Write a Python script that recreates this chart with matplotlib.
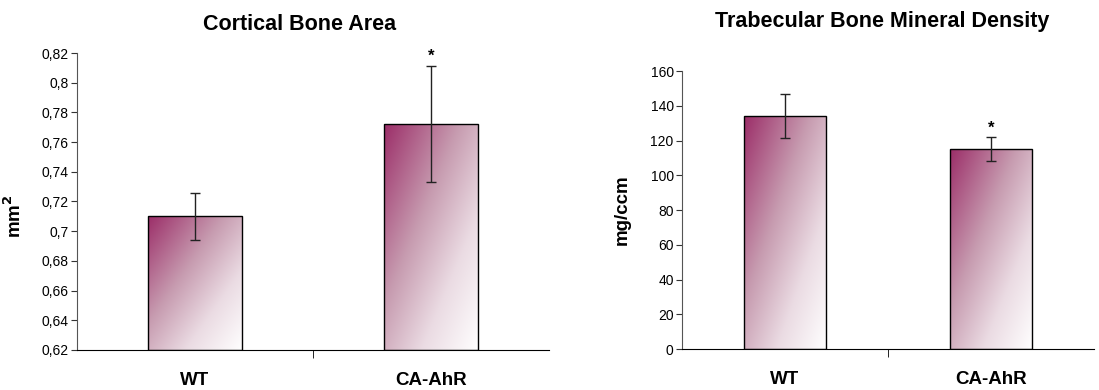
import numpy as np
import matplotlib.pyplot as plt
from matplotlib.ticker import FuncFormatter

plt.rcParams["font.family"] = ["Liberation Sans", "DejaVu Sans"]

groups = ["WT", "CA-AhR"]

cort_title = "Cortical Bone Area"
cort_vals = [0.710, 0.772]
cort_err = [0.016, 0.039]
cort_sig = [False, True]
cort_ticks = [0.62, 0.64, 0.66, 0.68, 0.70, 0.72, 0.74, 0.76, 0.78, 0.80, 0.82]

trab_title = "Trabecular Bone Mineral Density"
trab_vals = [134.0, 115.0]
trab_err = [12.5, 7.0]
trab_sig = [False, True]
trab_ticks = [0, 20, 40, 60, 80, 100, 120, 140, 160]

# gradient stops: top-left dark magenta -> grey mauve -> white bottom-right
stop_t = [0.0, 0.4, 0.7, 1.0]
stop_c = np.array([[0.61, 0.18, 0.41],
                   [0.78, 0.61, 0.69],
                   [0.92, 0.86, 0.89],
                   [1.0, 1.0, 1.0]])


def comma(v, pos):
    s = ("%.2f" % v).rstrip("0").rstrip(".")
    return s.replace(".", ",")


def grad_bar(ax, x, w, h, base):
    u = np.linspace(0, 1, 100)
    v = np.linspace(0, 1, 200)
    U, V = np.meshgrid(u, v)
    t = np.clip(0.5 * U + 0.5 * (1 - V), 0, 1)
    img = np.dstack([np.interp(t, stop_t, stop_c[:, k]) for k in range(3)])
    rect = plt.Rectangle((x - w / 2, base), w, h - base, facecolor="none",
                         edgecolor="black", linewidth=1.0, zorder=3)
    ax.add_patch(rect)
    im = ax.imshow(img, extent=(x - w / 2, x + w / 2, h, base), origin="upper",
                   aspect="auto", zorder=2, interpolation="bilinear")
    im.set_clip_path(rect)


def panel(ax, title, vals, errs, sig, ticks, ylabel, fmt, star_off):
    base = ticks[0]
    for i, (v, e) in enumerate(zip(vals, errs)):
        grad_bar(ax, i, 0.4, v, base)
        ax.errorbar(i, v, yerr=e, color="#222222", elinewidth=1.0,
                    capsize=3.5, capthick=1.0, zorder=4)
        if sig[i]:
            ax.text(i, v + e + star_off, "*", ha="center", va="bottom",
                    fontsize=12, fontweight="bold")
    ax.set_xlim(-0.5, 1.5)
    ax.set_ylim(ticks[0], ticks[-1])
    ax.set_yticks(ticks)
    if fmt:
        ax.yaxis.set_major_formatter(FuncFormatter(comma))
    ax.set_xticks([0, 1])
    ax.set_xticklabels(groups, fontsize=13.5, fontweight="bold")
    ax.set_xticks([0.5], minor=True)
    ax.tick_params(axis="x", which="major", length=0, pad=16)
    ax.tick_params(axis="x", which="minor", length=6, direction="out")
    ax.tick_params(axis="y", length=4, labelsize=10, pad=2, color="#333333")
    for s in ["top", "right"]:
        ax.spines[s].set_visible(False)
    ax.spines["left"].set_color("#555555")
    ax.spines["bottom"].set_color("black")
    ax.set_ylabel(ylabel, fontsize=13.5, fontweight="bold")


fig = plt.figure(figsize=(10.99, 3.9), dpi=100)
ax1 = fig.add_axes([0.0701, 0.1026, 0.4295, 0.7615])
ax2 = fig.add_axes([0.6206, 0.1051, 0.3749, 0.7128])

panel(ax1, cort_title, cort_vals, cort_err, cort_sig, cort_ticks,
      r"mm$^\mathbf{2}$", True, 0.002)
panel(ax2, trab_title, trab_vals, trab_err, trab_sig, trab_ticks,
      "mg/ccm", False, 0.5)
ax1.yaxis.set_label_coords(-0.11, 0.45)
ax2.yaxis.set_label_coords(-0.125, 0.5)

fig.text(300 / 1099, 1 - 25 / 390, cort_title, ha="center", va="center",
         fontsize=15.5, fontweight="bold")
fig.text(882 / 1099, 1 - 22 / 390, trab_title, ha="center", va="center",
         fontsize=15.5, fontweight="bold")

fig.savefig("out.png", dpi=100)
